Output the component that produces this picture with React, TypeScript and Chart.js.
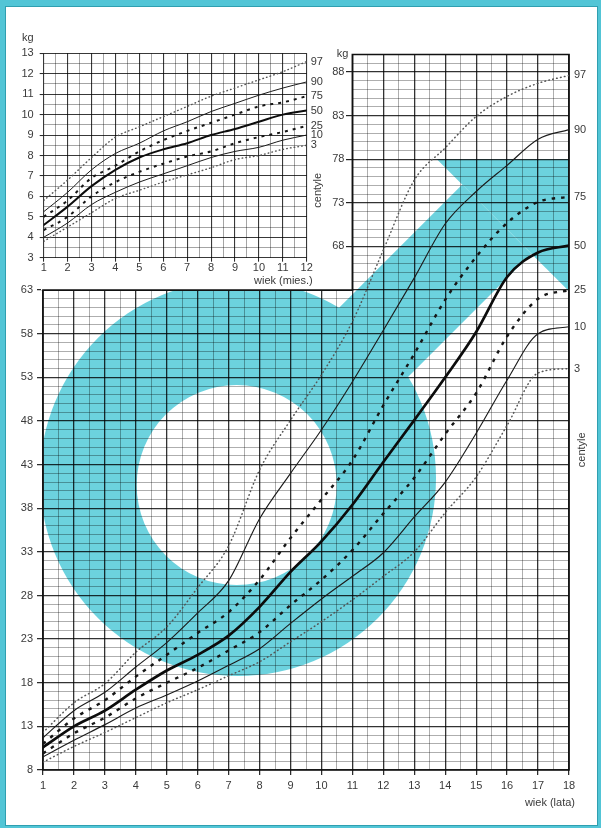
import React, { useEffect, useRef } from "react";
import { Chart, registerables } from "chart.js";

Chart.register(...registerables);

const W = 601;
const H = 828;
const FONT = '"Liberation Sans", Arial, Helvetica, sans-serif';
const TEXT = "#3a3a3a";

// ---------- main chart data: age in years ----------
const AGES = [1, 2, 3, 4, 5, 6, 7, 8, 9, 10, 11, 12, 13, 14, 15, 16, 17, 18];
const P97 = [12.3, 15.7, 17.9, 21.5, 24.4, 28.9, 33.7, 42.4, 48.1, 53.3, 59.4, 67.6, 75.6, 79.3, 82.9, 85.2, 86.7, 87.6];
const P90 = [11.7, 14.8, 16.9, 19.8, 22.6, 26.0, 29.7, 36.8, 42.0, 47.0, 52.5, 58.4, 64.4, 70.6, 74.3, 77.3, 80.3, 81.4];
const P75 = [11.0, 13.9, 16.0, 18.7, 21.2, 23.7, 26.1, 29.8, 34.6, 39.0, 43.5, 49.8, 55.7, 61.9, 66.8, 70.7, 73.1, 73.7];
const P50 = [10.6, 13.0, 14.8, 17.2, 19.4, 21.2, 23.4, 26.7, 30.7, 34.2, 38.4, 43.3, 48.1, 53.0, 58.2, 64.5, 67.3, 68.1];
const P25 = [9.9, 12.2, 14.0, 16.2, 18.0, 19.7, 21.7, 23.8, 26.9, 29.8, 33.2, 37.4, 41.5, 46.5, 51.2, 57.7, 62.0, 63.0];
const P10 = [9.5, 11.4, 13.2, 15.1, 16.6, 18.2, 20.0, 21.9, 24.8, 27.6, 30.2, 32.9, 37.0, 41.0, 46.6, 52.7, 58.0, 58.8];
const P3 = [8.9, 10.7, 12.3, 14.0, 15.7, 17.2, 18.8, 20.4, 22.7, 25.0, 27.5, 30.2, 33.0, 37.5, 41.6, 47.5, 53.5, 54.0];

// ---------- inset data: age in months ----------
const MONTHS = [1, 2, 3, 4, 5, 6, 7, 8, 9, 10, 11, 12];
const M97 = [5.8, 6.8, 7.9, 8.9, 9.4, 9.9, 10.4, 10.9, 11.3, 11.7, 12.1, 12.6];
const M90 = [5.25, 6.2, 7.3, 8.1, 8.6, 9.2, 9.65, 10.15, 10.55, 10.95, 11.3, 11.6];
const M75 = [5.0, 5.8, 6.9, 7.5, 8.2, 8.75, 9.2, 9.6, 10.0, 10.4, 10.6, 10.9];
const M50 = [4.6, 5.5, 6.5, 7.3, 7.9, 8.3, 8.6, 9.0, 9.3, 9.65, 10.0, 10.2];
const M25 = [4.35, 5.0, 6.0, 6.7, 7.2, 7.6, 7.95, 8.2, 8.6, 8.9, 9.15, 9.45];
const M10 = [4.0, 4.7, 5.6, 6.2, 6.7, 7.1, 7.5, 7.9, 8.2, 8.4, 8.75, 9.0];
const M3 = [3.8, 4.5, 5.2, 5.9, 6.3, 6.7, 7.05, 7.4, 7.8, 8.0, 8.3, 8.5];

// ---------- tick labels ----------
const MAIN_X_LABELS = [1, 2, 3, 4, 5, 6, 7, 8, 9, 10, 11, 12, 13, 14, 15, 16, 17, 18];
const MAIN_Y_LABELS = [8, 13, 18, 23, 28, 33, 38, 43, 48, 53, 58, 63];
const UPPER_Y_LABELS = [68, 73, 78, 83, 88];
const INSET_X_LABELS = [1, 2, 3, 4, 5, 6, 7, 8, 9, 10, 11, 12];
const INSET_Y_LABELS = [3, 4, 5, 6, 7, 8, 9, 10, 11, 12, 13];

// range of the main grid and the corner that the inset occupies
const MAIN_X_RANGE = [1, 18];
const MAIN_Y_RANGE = [8, 90];
const INSET_CORNER = { age: 11, kg: 63 };
const INSET_X_RANGE = [1, 12];
const INSET_Y_RANGE = [3, 13];

// background male symbol, in data units (age, kg); sizes in kg units
const SYMBOL = {
  ringAge: 7.3,
  ringKg: 41.47,
  holeAge: 7.26,
  holeKg: 40.66,
  outer: 22.7,
  inner: 11.46,
  shaftHalf: 5.6,
  headAge: 13.73,
  headKg: 78,
};

const CYAN = "#6cd2de";
const FRAME = "#52c5d6";
const FRAME_EDGE = "#2f9fb0";

type Kind = "dotted" | "thin" | "dashed" | "thick";
const STYLES_MAIN: Record<Kind, { width: number; dash: number[]; color: string; cap: CanvasLineCap }> = {
  dotted: { width: 1.5, dash: [0.6, 3.4], color: "#555", cap: "round" },
  thin: { width: 1.15, dash: [], color: "#1c1c1c", cap: "butt" },
  dashed: { width: 2.4, dash: [3.5, 6], color: "#161616", cap: "butt" },
  thick: { width: 2.7, dash: [], color: "#0c0c0c", cap: "round" },
};
const STYLES_INSET: Record<Kind, { width: number; dash: number[]; color: string; cap: CanvasLineCap }> = {
  dotted: { width: 1.4, dash: [0.6, 3.2], color: "#555", cap: "round" },
  thin: { width: 1.0, dash: [], color: "#1c1c1c", cap: "butt" },
  dashed: { width: 2.0, dash: [3, 5], color: "#161616", cap: "butt" },
  thick: { width: 2.0, dash: [], color: "#0c0c0c", cap: "round" },
};

const MAIN_SERIES: { label: string; values: number[]; kind: Kind }[] = [
  { label: "97", values: P97, kind: "dotted" },
  { label: "3", values: P3, kind: "dotted" },
  { label: "90", values: P90, kind: "thin" },
  { label: "10", values: P10, kind: "thin" },
  { label: "75", values: P75, kind: "dashed" },
  { label: "25", values: P25, kind: "dashed" },
  { label: "50", values: P50, kind: "thick" },
];
const INSET_SERIES: { label: string; values: number[]; kind: Kind }[] = [
  { label: "97", values: M97, kind: "dotted" },
  { label: "3", values: M3, kind: "dotted" },
  { label: "90", values: M90, kind: "thin" },
  { label: "10", values: M10, kind: "thin" },
  { label: "75", values: M75, kind: "dashed" },
  { label: "25", values: M25, kind: "dashed" },
  { label: "50", values: M50, kind: "thick" },
];

const MINOR = "rgba(0,0,0,0.40)";
const MAJOR = "rgba(0,0,0,0.80)";
const NONE = "rgba(0,0,0,0)";

function steps(a: number, b: number, s: number) {
  const out: number[] = [];
  for (let v = a; v <= b + 1e-9; v += s) out.push(Math.round(v * 100) / 100);
  return out;
}
const near = (a: number, b: number) => Math.abs(a - b) < 1e-6;
const isInt = (v: number) => near(v, Math.round(v));

function makeDatasets(xs: number[], series: typeof MAIN_SERIES, styles: typeof STYLES_MAIN) {
  return series.map((s) => {
    const st = styles[s.kind];
    return {
      label: s.label,
      data: xs.map((x, i) => ({ x, y: s.values[i] })),
      borderColor: st.color,
      borderWidth: st.width,
      borderDash: st.dash,
      borderCapStyle: st.cap,
      borderJoinStyle: "round" as CanvasLineJoin,
      pointRadius: 0,
      pointHoverRadius: 0,
      fill: false,
      cubicInterpolationMode: "monotone" as const,
    };
  });
}

const tickVal = (c: any) => (c && c.tick ? c.tick.value : NaN);

const mainDecor = {
  id: "mainDecor",
  beforeDraw(chart: any) {
    const { ctx, chartArea: ca, scales } = chart;
    const xs = scales.x;
    const ys = scales.y;
    ctx.save();
    ctx.fillStyle = FRAME;
    ctx.fillRect(0, 0, W, H);
    ctx.fillStyle = "#fff";
    ctx.fillRect(5, 6, W - 8, H - 8);
    ctx.strokeStyle = FRAME_EDGE;
    ctx.lineWidth = 1;
    ctx.strokeRect(5.5, 6.5, W - 9, H - 9);

    ctx.beginPath();
    ctx.rect(ca.left, ca.top, ca.right - ca.left, ca.bottom - ca.top);
    ctx.clip();
    const u = ys.getPixelForValue(8) - ys.getPixelForValue(9);
    const cx = xs.getPixelForValue(SYMBOL.ringAge);
    const cy = ys.getPixelForValue(SYMBOL.ringKg);
    const ax = xs.getPixelForValue(SYMBOL.headAge);
    const ay = ys.getPixelForValue(SYMBOL.headKg);
    const k = (SYMBOL.shaftHalf * u) / Math.SQRT2;
    const bx = (ax - ay + (cx + cy)) / 2;
    const by = (cx + cy - (ax - ay)) / 2;
    ctx.fillStyle = CYAN;
    ctx.beginPath();
    ctx.arc(cx, cy, SYMBOL.outer * u, 0, Math.PI * 2);
    ctx.fill();
    ctx.beginPath();
    ctx.moveTo(cx - k, cy - k);
    ctx.lineTo(bx - k, by - k);
    ctx.lineTo(bx + k, by + k);
    ctx.lineTo(cx + k, cy + k);
    ctx.closePath();
    ctx.fill();
    const L = 420;
    ctx.beginPath();
    ctx.moveTo(ax, ay);
    ctx.lineTo(ax + L, ay);
    ctx.lineTo(ax + L, ay + L);
    ctx.closePath();
    ctx.fill();
    ctx.fillStyle = "#fff";
    ctx.beginPath();
    ctx.arc(xs.getPixelForValue(SYMBOL.holeAge), ys.getPixelForValue(SYMBOL.holeKg), SYMBOL.inner * u, 0, Math.PI * 2);
    ctx.fill();
    ctx.restore();
  },
  beforeDatasetsDraw(chart: any) {
    const { ctx, chartArea: ca, scales } = chart;
    const xc = scales.x.getPixelForValue(INSET_CORNER.age);
    const yc = scales.y.getPixelForValue(INSET_CORNER.kg);
    ctx.save();
    ctx.fillStyle = "#fff";
    ctx.fillRect(ca.left - 2, ca.top - 3, xc - ca.left + 2, yc - ca.top + 3);
    ctx.strokeStyle = "#111";
    ctx.lineWidth = 1.7;
    ctx.lineJoin = "miter";
    ctx.beginPath();
    ctx.moveTo(ca.left, yc);
    ctx.lineTo(xc, yc);
    ctx.lineTo(xc, ca.top);
    ctx.lineTo(ca.right, ca.top);
    ctx.lineTo(ca.right, ca.bottom);
    ctx.lineTo(ca.left, ca.bottom);
    ctx.closePath();
    ctx.stroke();
    ctx.restore();
  },
  afterDraw(chart: any) {
    const { ctx, chartArea: ca, scales } = chart;
    const ys = scales.y;
    const xc = scales.x.getPixelForValue(INSET_CORNER.age);
    ctx.save();
    ctx.fillStyle = TEXT;
    ctx.font = `11px ${FONT}`;
    ctx.textBaseline = "middle";
    ctx.textAlign = "left";
    MAIN_SERIES.forEach((s) => {
      ctx.fillText(s.label, ca.right + 5, ys.getPixelForValue(s.values[s.values.length - 1]));
    });
    ctx.save();
    ctx.translate(ca.right + 13, ys.getPixelForValue(44.7));
    ctx.rotate(-Math.PI / 2);
    ctx.textAlign = "center";
    ctx.fillText("centyle", 0, 0);
    ctx.restore();
    ctx.textAlign = "right";
    // labels of the upper panel's axis (placed next to the y2 scale ticks)
    const y2 = scales.y2;
    y2.ticks.forEach((t: any) => {
      ctx.fillText(String(t.value), xc - 8, y2.getPixelForValue(t.value));
    });
    ctx.fillText("kg", xc - 4, ca.top - 1);
    ctx.fillText("wiek (lata)", ca.right + 6, ca.bottom + 33);
    ctx.restore();
  },
};

const insetDecor = {
  id: "insetDecor",
  afterDraw(chart: any) {
    const { ctx, chartArea: ca, scales } = chart;
    const ys = scales.y;
    ctx.save();
    ctx.fillStyle = TEXT;
    ctx.font = `11px ${FONT}`;
    ctx.textBaseline = "middle";
    ctx.textAlign = "left";
    INSET_SERIES.forEach((s) => {
      ctx.fillText(s.label, ca.right + 4, ys.getPixelForValue(s.values[s.values.length - 1]));
    });
    ctx.save();
    ctx.translate(ca.right + 11, ys.getPixelForValue(6.3));
    ctx.rotate(-Math.PI / 2);
    ctx.textAlign = "center";
    ctx.fillText("centyle", 0, 0);
    ctx.restore();
    ctx.textAlign = "center";
    ctx.fillText("kg", ca.left - 16, ca.top - 15);
    ctx.textAlign = "right";
    ctx.fillText("wiek (mies.)", ca.right + 6, ca.bottom + 23);
    ctx.restore();
  },
};

function mainConfig(): any {
  const xGrid = steps(MAIN_X_RANGE[0], MAIN_X_RANGE[1], 0.5);
  const yGrid = steps(MAIN_Y_RANGE[0], MAIN_Y_RANGE[1], 1);
  const yMajor = (v: number) => near((((v - MAIN_Y_RANGE[0]) % 5) + 5) % 5, 0);
  return {
    type: "line",
    data: { datasets: makeDatasets(AGES, MAIN_SERIES, STYLES_MAIN) },
    options: {
      animation: false,
      responsive: false,
      events: [],
      layout: { padding: { left: 0, right: 32, top: 54.5, bottom: 0 } },
      plugins: { legend: { display: false }, tooltip: { enabled: false } },
      scales: {
        x: {
          type: "linear",
          min: MAIN_X_RANGE[0],
          max: MAIN_X_RANGE[1],
          afterBuildTicks: (s: any) => {
            s.ticks = xGrid.map((v) => ({ value: v }));
          },
          afterFit: (s: any) => {
            s.height = 58;
          },
          border: { display: false },
          grid: {
            color: (c: any) => (isInt(tickVal(c)) ? MAJOR : MINOR),
            lineWidth: (c: any) => (isInt(tickVal(c)) ? 1.3 : 0.8),
            tickLength: 5,
            tickColor: (c: any) => (MAIN_X_LABELS.some((l) => near(l, tickVal(c))) ? "#222" : NONE),
            tickWidth: 1.2,
          },
          ticks: {
            autoSkip: false,
            maxRotation: 0,
            padding: 4,
            color: TEXT,
            font: { family: FONT, size: 11 },
            callback: (v: number) => (MAIN_X_LABELS.some((l) => near(l, v)) ? String(v) : ""),
          },
        },
        y: {
          type: "linear",
          min: MAIN_Y_RANGE[0],
          max: MAIN_Y_RANGE[1],
          afterBuildTicks: (s: any) => {
            s.ticks = yGrid.map((v) => ({ value: v }));
          },
          afterFit: (s: any) => {
            s.width = 43;
          },
          border: { display: false },
          grid: {
            color: (c: any) => (yMajor(tickVal(c)) ? MAJOR : MINOR),
            lineWidth: (c: any) => (yMajor(tickVal(c)) ? 1.3 : 0.8),
            tickLength: 6,
            tickColor: (c: any) => (MAIN_Y_LABELS.some((l) => near(l, tickVal(c))) ? "#222" : NONE),
            tickWidth: 1.2,
          },
          ticks: {
            autoSkip: false,
            padding: 4,
            color: TEXT,
            font: { family: FONT, size: 11 },
            callback: (v: number) => (MAIN_Y_LABELS.some((l) => near(l, v)) ? String(v) : ""),
          },
        },
        y2: {
          type: "linear",
          axis: "y",
          position: { x: INSET_CORNER.age },
          min: MAIN_Y_RANGE[0],
          max: MAIN_Y_RANGE[1],
          afterBuildTicks: (s: any) => {
            s.ticks = UPPER_Y_LABELS.map((v) => ({ value: v }));
          },
          border: { display: false },
          grid: { drawOnChartArea: false, tickLength: 6, color: "#222", lineWidth: 1.2, z: 1 },
          ticks: { display: false, z: 1 },
        },
      },
    },
    plugins: [mainDecor],
  };
}

function insetConfig(): any {
  const xGrid = steps(INSET_X_RANGE[0], INSET_X_RANGE[1], 0.5);
  const yGrid = steps(INSET_Y_RANGE[0], INSET_Y_RANGE[1], 0.5);
  return {
    type: "line",
    data: { datasets: makeDatasets(MONTHS, INSET_SERIES, STYLES_INSET) },
    options: {
      animation: false,
      responsive: false,
      events: [],
      layout: { padding: { left: 0, right: 294.3, top: 53.3, bottom: 0 } },
      plugins: { legend: { display: false }, tooltip: { enabled: false } },
      scales: {
        x: {
          type: "linear",
          min: INSET_X_RANGE[0],
          max: INSET_X_RANGE[1],
          afterBuildTicks: (s: any) => {
            s.ticks = xGrid.map((v) => ({ value: v }));
          },
          afterFit: (s: any) => {
            s.height = H - 257.7;
          },
          border: { display: false },
          grid: {
            color: (c: any) => (isInt(tickVal(c)) ? "rgba(0,0,0,0.78)" : "rgba(0,0,0,0.45)"),
            lineWidth: (c: any) => (isInt(tickVal(c)) ? 1.1 : 0.8),
            tickLength: 4,
            tickColor: (c: any) => (INSET_X_LABELS.some((l) => near(l, tickVal(c))) ? "#222" : NONE),
            tickWidth: 1,
          },
          ticks: {
            autoSkip: false,
            maxRotation: 0,
            padding: 0,
            color: TEXT,
            font: { family: FONT, size: 11 },
            callback: (v: number) => (INSET_X_LABELS.some((l) => near(l, v)) ? String(v) : ""),
          },
        },
        y: {
          type: "linear",
          min: INSET_Y_RANGE[0],
          max: INSET_Y_RANGE[1],
          afterBuildTicks: (s: any) => {
            s.ticks = yGrid.map((v) => ({ value: v }));
          },
          afterFit: (s: any) => {
            s.width = 43.7;
          },
          border: { display: false },
          grid: {
            color: (c: any) => (isInt(tickVal(c)) ? "rgba(0,0,0,0.78)" : "rgba(0,0,0,0.45)"),
            lineWidth: (c: any) => (isInt(tickVal(c)) ? 1.1 : 0.8),
            tickLength: 4,
            tickColor: (c: any) => (INSET_Y_LABELS.some((l) => near(l, tickVal(c))) ? "#222" : NONE),
            tickWidth: 1,
          },
          ticks: {
            autoSkip: false,
            padding: 6,
            color: TEXT,
            font: { family: FONT, size: 11 },
            callback: (v: number) => (INSET_Y_LABELS.some((l) => near(l, v)) ? String(v) : ""),
          },
        },
      },
    },
    plugins: [insetDecor],
  };
}

export default function App() {
  const mainRef = useRef<HTMLCanvasElement>(null);
  const insetRef = useRef<HTMLCanvasElement>(null);
  useEffect(() => {
    const main = new Chart(mainRef.current as HTMLCanvasElement, mainConfig());
    const inset = new Chart(insetRef.current as HTMLCanvasElement, insetConfig());
    return () => {
      main.destroy();
      inset.destroy();
    };
  }, []);
  const cs: React.CSSProperties = { position: "absolute", left: 0, top: 0, width: W, height: H };
  return (
    <div style={{ position: "absolute", left: 0, top: 0, width: W, height: H, background: "#fff" }}>
      <canvas ref={mainRef} width={W} height={H} style={cs} />
      <canvas ref={insetRef} width={W} height={H} style={{ ...cs, pointerEvents: "none" }} />
    </div>
  );
}
